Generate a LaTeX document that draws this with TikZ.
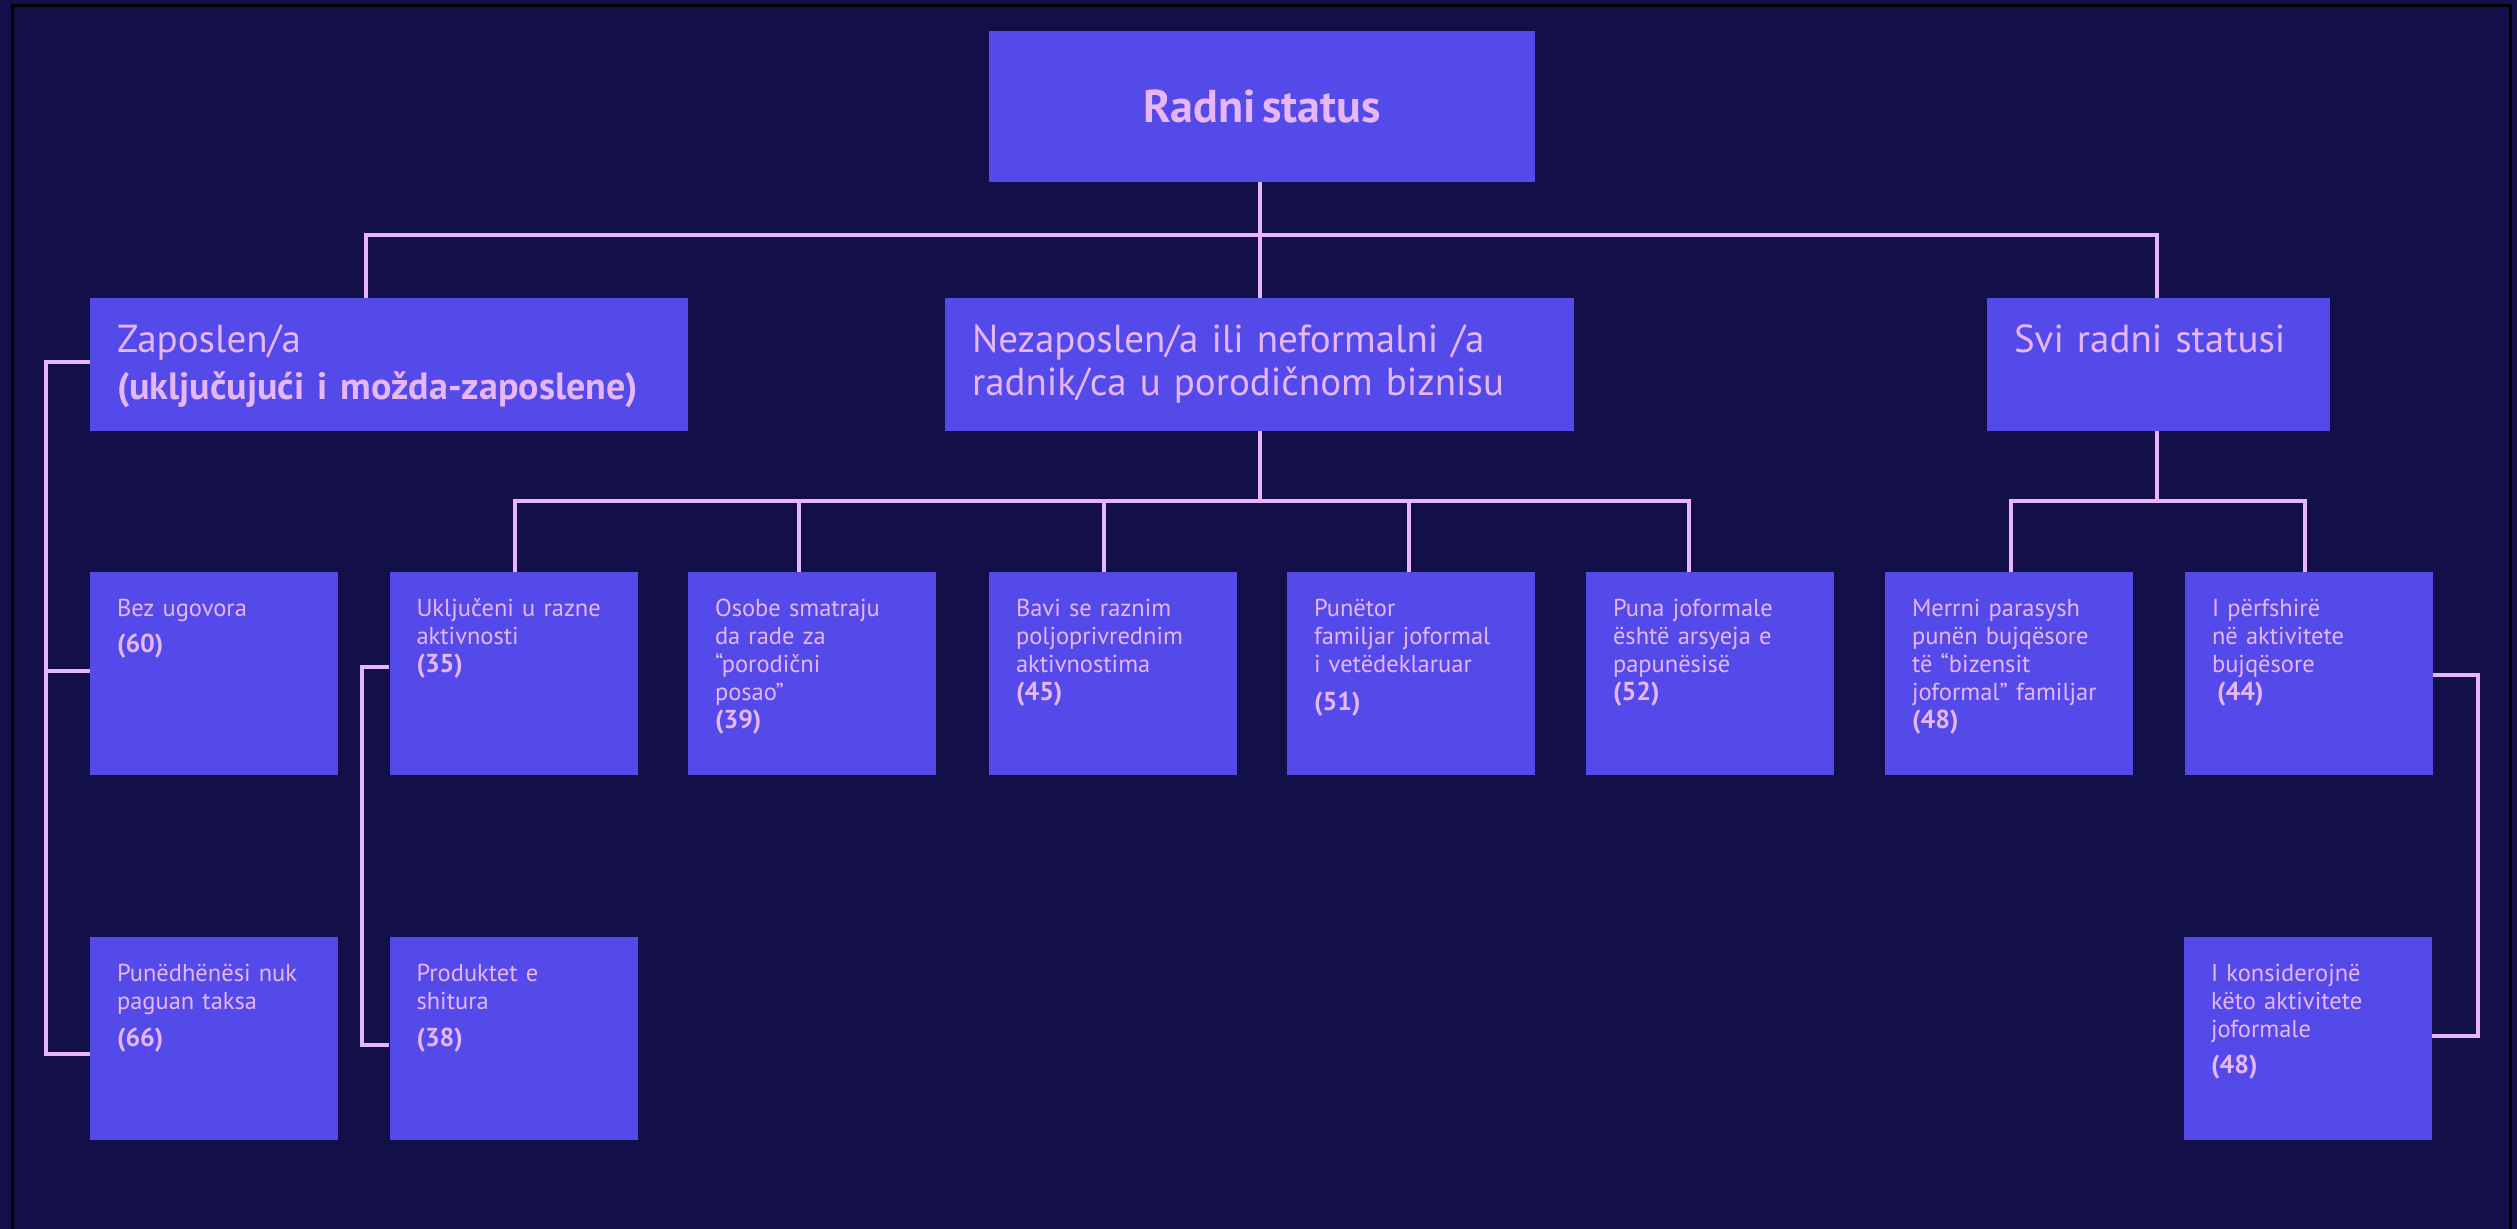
\documentclass[tikz,border=0pt]{standalone}
\usepackage{fontspec}
\setmainfont{PT Sans}[WordSpace=0.55]
\definecolor{bgnavy}{HTML}{130F49}
\definecolor{boxblue}{HTML}{5449E9}
\definecolor{lav}{HTML}{E6B6F7}
\newcommand\numb[1]{{\fontsize{26}{28}\selectfont\bfseries #1}}
\tikzset{
  card/.style={fill=boxblue, draw=none, inner sep=0pt, minimum height=203pt, minimum width=248pt},
  hbox/.style={fill=boxblue, draw=none, inner sep=0pt, minimum height=133pt},
  conn/.style={draw=lav, line width=4.5pt, line cap=butt, line join=miter},
  smalltxt/.style={anchor=base west, inner sep=0pt, text=lav, text width=240pt, align=left,
    font=\fontsize{24.5}{28}\selectfont},
  bigtxt/.style={anchor=base west, inner sep=0pt, text=lav, text width=640pt, align=left,
    font=\fontsize{39}{43}\selectfont},
}
\begin{document}
\begin{tikzpicture}[x=1pt,y=-1pt]
\useasboundingbox (0,0) rectangle (2517,1229);
\fill[bgnavy] (0,0) rectangle (2517,1229);
\draw[black, line width=3pt] (12,1229) -- (12,5.5) -- (2510.5,5.5) -- (2510.5,1229);

% root
\node[fill=boxblue, inner sep=0pt, minimum width=546pt, minimum height=151pt,
      text=lav, font=\fontsize{46}{50}\selectfont\bfseries] (root) at (1262,106.5) {Radni status};

% level 2
\node[hbox, minimum width=598pt] (zap) at (389,364.5) {};
\node[hbox, minimum width=629pt] (nez) at (1259.5,364.5) {};
\node[hbox, minimum width=343pt] (svi) at (2158.5,364.5) {};

\node[bigtxt] (tzap) at ([xshift=27pt,yshift=-55pt]zap.north west)
  {Zaposlen/a\\[4pt]{\fontsize{38}{40}\selectfont\bfseries (uključujući i možda-zaposlene)}};
\node[bigtxt] (tnez) at ([xshift=27pt,yshift=-55pt]nez.north west)
  {Nezaposlen/a ili neformalni /a\\radnik/ca u porodičnom biznisu};
\node[bigtxt] (tsvi) at ([xshift=27pt,yshift=-55pt]svi.north west) {Svi radni statusi};

% level 3
\node[card] (bez)  at (214,673.5) {};
\node[card] (ukl)  at (513.5,673.5) {};
\node[card] (oso)  at (812,673.5) {};
\node[card] (bav)  at (1113,673.5) {};
\node[card] (pun)  at (1411,673.5) {};
\node[card] (puna) at (1710,673.5) {};
\node[card] (mer)  at (2009,673.5) {};
\node[card] (per)  at (2309,673.5) {};

% level 4
\node[card] (pdh) at (214,1038.5) {};
\node[card] (pro) at (513.5,1038.5) {};
\node[card] (kon) at (2308,1038.5) {};

% texts level 3
\node[smalltxt] (tbez) at ([xshift=27pt,yshift=-45pt]bez.north west)
  {Bez ugovora\\[8pt]\numb{(60)}};
\node[smalltxt] (tukl) at ([xshift=27pt,yshift=-45pt]ukl.north west)
  {Uključeni u razne\\aktivnosti\\\numb{(35)}};
\node[smalltxt] (toso) at ([xshift=27pt,yshift=-45pt]oso.north west)
  {Osobe smatraju\\da rade za\\“porodični\\posao”\\\numb{(39)}};
\node[smalltxt] (tbav) at ([xshift=27pt,yshift=-45pt]bav.north west)
  {Bavi se raznim\\poljoprivrednim\\aktivnostima\\\numb{(45)}};
\node[smalltxt] (tpun) at ([xshift=27pt,yshift=-45pt]pun.north west)
  {Punëtor\\familjar joformal\\i vetëdeklaruar\\[10pt]\numb{(51)}};
\node[smalltxt] (tpuna) at ([xshift=27pt,yshift=-45pt]puna.north west)
  {Puna joformale\\është arsyeja e\\papunësisë\\\numb{(52)}};
\node[smalltxt] (tmer) at ([xshift=27pt,yshift=-45pt]mer.north west)
  {Merrni parasysh\\punën bujqësore\\të “bizensit\\joformal” familjar\\\numb{(48)}};
\node[smalltxt] (tper) at ([xshift=27pt,yshift=-45pt]per.north west)
  {I përfshirë\\në aktivitete\\bujqësore\\\hspace*{5pt}\numb{(44)}};

% texts level 4
\node[smalltxt] (tpdh) at ([xshift=27pt,yshift=-45pt]pdh.north west)
  {Punëdhënësi nuk\\paguan taksa\\[9pt]\numb{(66)}};
\node[smalltxt] (tpro) at ([xshift=27pt,yshift=-45pt]pro.north west)
  {Produktet e\\shitura\\[9pt]\numb{(38)}};
\node[smalltxt] (tkon) at ([xshift=27pt,yshift=-45pt]kon.north west)
  {I konsiderojnë\\këto aktivitete\\joformale\\[8pt]\numb{(48)}};

% connectors top
\coordinate (bus) at (1260,235);
\draw[conn] (root.south -| bus) -- (bus);
\draw[conn] ([xshift=-23pt]zap.north) |- (bus) -| ([xshift=-1.5pt]svi.north);
\draw[conn] (bus) -- (nez.north -| bus);

% Nezaposlen bus
\coordinate (nb) at (1260,501);
\draw[conn] (nez.south -| nb) -- (nb);
\draw[conn] ([xshift=1.5pt]ukl.north) |- (nb) -| ([xshift=-21pt]puna.north);
\draw[conn] ([xshift=-13pt]oso.north) -- ([xshift=-13pt]oso.north |- nb);
\draw[conn] ([xshift=-9pt]bav.north) -- ([xshift=-9pt]bav.north |- nb);
\draw[conn] ([xshift=-2pt]pun.north) -- ([xshift=-2pt]pun.north |- nb);

% Svi bus
\coordinate (sb) at (2157,501);
\draw[conn] (svi.south -| sb) -- (sb);
\draw[conn] ([xshift=2pt]mer.north) |- (sb) -| ([xshift=-4pt]per.north);

% left employed branch
\coordinate (lx) at (46,0);
\draw[conn] ([yshift=2.5pt]zap.west) -- ([yshift=2.5pt]zap.west -| lx)
  -- ([yshift=-15.5pt]pdh.west -| lx) -- ([yshift=-15.5pt]pdh.west);
\draw[conn] ([yshift=2.5pt]bez.west -| lx) -- ([yshift=2.5pt]bez.west);

% Ukljuceni -> Produktet
\coordinate (ux) at (362,0);
\draw[conn] ([yshift=6.5pt]ukl.west) -- ([yshift=6.5pt]ukl.west -| ux)
  -- ([yshift=-6.5pt]pro.west -| ux) -- ([yshift=-6.5pt]pro.west);

% I perfshire -> I konsiderojne
\coordinate (rx) at (2478,0);
\draw[conn] ([yshift=-1.5pt]per.east) -- ([yshift=-1.5pt]per.east -| rx)
  -- ([yshift=2.5pt]kon.east -| rx) -- ([yshift=2.5pt]kon.east);
\end{tikzpicture}
\end{document}
